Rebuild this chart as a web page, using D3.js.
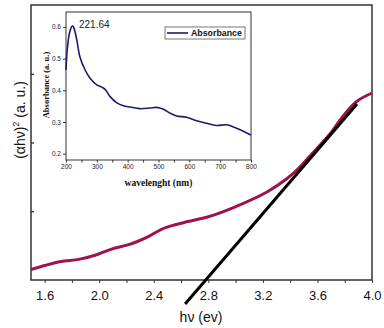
<!DOCTYPE html>
<html>
<head>
<meta charset="utf-8">
<script src="https://cdn.jsdelivr.net/npm/d3@7"></script>
<style>
  body { margin: 0; background: #fff; }
  svg { display: block; }
</style>
</head>
<body>
<svg width="384" height="328"></svg>
<script>
// main tauc plot data (photon energy in eV vs (ahv)^2)
const energy = [1.50, 1.60, 1.72, 1.85, 1.97, 2.09, 2.21, 2.28, 2.36, 2.46, 2.55, 2.65, 2.80, 2.98, 3.23, 3.38, 3.47, 3.52, 3.69, 3.79, 3.89, 4.00];
const tauc = [0.15, 0.21, 0.27, 0.30, 0.36, 0.45, 0.51, 0.56, 0.63, 0.74, 0.80, 0.85, 0.92, 1.05, 1.28, 1.48, 1.64, 1.75, 2.12, 2.39, 2.60, 2.72];
// straight fit line, two ends
const fitEnergy = [2.63, 3.89];
const fitTauc = [-0.35, 2.56];
const energyTicks = [1.6, 2.0, 2.4, 2.8, 3.2, 3.6, 4.0];

// inset absorbance spectrum
const wavelength = [200, 204, 211, 218, 222, 226, 235, 245, 262, 278, 300, 316, 327, 343, 364, 386, 408, 440, 472, 494, 516, 537, 559, 591, 624, 656, 688, 721, 753, 800];
const absorbance = [0.464, 0.527, 0.580, 0.600, 0.603, 0.596, 0.559, 0.506, 0.464, 0.438, 0.417, 0.410, 0.403, 0.380, 0.361, 0.351, 0.347, 0.342, 0.344, 0.346, 0.340, 0.328, 0.319, 0.315, 0.304, 0.296, 0.289, 0.291, 0.280, 0.259];
const wlTicks = [200, 300, 400, 500, 600, 700, 800];
const absTicks = [0.2, 0.3, 0.4, 0.5, 0.6];
const peakLabel = "221.64";

const svg = d3.select("svg");

let x = d3.scaleLinear().domain([1.5, 4.0]).range([31, 372]);
let y = d3.scaleLinear().domain([0, 4]).range([280, 5]);

// frame
svg.append("rect")
  .attr("x", x.range()[0]).attr("y", y.range()[1])
  .attr("width", x.range()[1] - x.range()[0])
  .attr("height", y.range()[0] - y.range()[1])
  .attr("fill", "none").attr("stroke", "#333").attr("stroke-width", 1.5);

// x axis, minor ticks every 0.2
const xAxis = d3.axisBottom(x)
  .tickValues(d3.range(1.6, 4.01, 0.2).map(v => +v.toFixed(1)))
  .tickSize(3)
  .tickSizeOuter(0)
  .tickFormat(d => energyTicks.includes(d) ? d.toFixed(1) : "");
let gx = svg.append("g")
  .attr("transform", "translate(0," + y.range()[0] + ")")
  .call(xAxis);
gx.select(".domain").remove();
gx.selectAll("line").attr("stroke", "#333");
gx.selectAll("text")
  .attr("font-family", "Liberation Sans, Arial, sans-serif")
  .attr("font-size", 13).attr("fill", "#111")
  .attr("dy", "1.1em");

// y axis has no labels, ticks point inward
const yAxis = d3.axisRight(y).tickValues([1, 2, 3]).tickSize(3).tickFormat("");
let gy = svg.append("g")
  .attr("transform", "translate(" + x.range()[0] + ",0)")
  .call(yAxis);
gy.select(".domain").remove();
gy.selectAll("line").attr("stroke", "#333").attr("stroke-width", 1.3);

// curve
const line = d3.line()
  .x((d, i) => x(energy[i]))
  .y((d, i) => y(tauc[i]))
  .curve(d3.curveCatmullRom.alpha(0.5));
svg.append("path")
  .attr("d", line(energy))
  .attr("fill", "none")
  .attr("stroke", "#a0124f")
  .attr("stroke-width", 3);

// tangent line
svg.append("line")
  .attr("x1", x(fitEnergy[0])).attr("y1", y(fitTauc[0]))
  .attr("x2", x(fitEnergy[1])).attr("y2", y(fitTauc[1]))
  .attr("stroke", "#000").attr("stroke-width", 3);

// axis titles
svg.append("text")
  .attr("x", 201).attr("y", 322)
  .attr("text-anchor", "middle")
  .attr("font-family", "Liberation Sans, Arial, sans-serif")
  .attr("font-size", 14).attr("fill", "#111")
  .text("hν (ev)");
let yt = svg.append("text")
  .attr("transform", "translate(25,120) rotate(-90)")
  .attr("text-anchor", "middle")
  .attr("font-family", "Liberation Sans, Arial, sans-serif")
  .attr("font-size", 14).attr("fill", "#111");
yt.append("tspan").text("(αhν)");
yt.append("tspan").attr("font-size", 9).attr("dy", -6).text("2");
yt.append("tspan").attr("dy", 6).text(" (a. u.)");

// ---- inset ----
let ix = d3.scaleLinear().domain([200, 800]).range([66, 251]);
let iy = d3.scaleLinear().domain([0.18, 0.647]).range([160, 12]);

svg.append("rect")
  .attr("x", ix.range()[0]).attr("y", iy.range()[1])
  .attr("width", ix.range()[1] - ix.range()[0])
  .attr("height", iy.range()[0] - iy.range()[1])
  .attr("fill", "#fff").attr("stroke", "#333").attr("stroke-width", 1);

const ixAxis = d3.axisBottom(ix)
  .tickValues(d3.range(200, 801, 50))
  .tickSize(2.5).tickSizeOuter(0)
  .tickFormat(d => wlTicks.includes(d) ? d : "");
let igx = svg.append("g")
  .attr("transform", "translate(0," + iy.range()[0] + ")")
  .call(ixAxis);
igx.select(".domain").remove();
igx.selectAll("line").attr("stroke", "#333");
igx.selectAll("text")
  .attr("font-family", "Liberation Sans, Arial, sans-serif")
  .attr("font-size", 6.5).attr("fill", "#222").attr("dy", "0.6em");

const iyAxis = d3.axisLeft(iy).tickValues(absTicks).tickSize(3).tickSizeOuter(0)
  .tickFormat(d3.format(".1f"));
let igy = svg.append("g")
  .attr("transform", "translate(" + ix.range()[0] + ",0)")
  .call(iyAxis);
igy.select(".domain").remove();
igy.selectAll("line").attr("stroke", "#333");
igy.selectAll("text")
  .attr("font-family", "Liberation Sans, Arial, sans-serif")
  .attr("font-size", 6.5).attr("fill", "#222").attr("x", -5);

const iline = d3.line()
  .x((d, i) => ix(wavelength[i]))
  .y((d, i) => iy(absorbance[i]))
  .curve(d3.curveCatmullRom.alpha(0.5));
svg.append("path")
  .attr("d", iline(wavelength))
  .attr("fill", "none")
  .attr("stroke", "#1b1b6b")
  .attr("stroke-width", 1.6);

svg.append("text")
  .attr("x", 79).attr("y", 28)
  .attr("font-family", "Liberation Sans, Arial, sans-serif")
  .attr("font-size", 10).attr("fill", "#222")
  .text(peakLabel);

svg.append("text")
  .attr("x", ix(500)).attr("y", 186)
  .attr("text-anchor", "middle")
  .attr("font-family", "Liberation Serif, Times New Roman, serif")
  .attr("font-weight", "bold")
  .attr("font-size", 9.5).attr("fill", "#111")
  .text("wavelenght (nm)");
svg.append("text")
  .attr("transform", "translate(49,85) rotate(-90)")
  .attr("text-anchor", "middle")
  .attr("font-family", "Liberation Serif, Times New Roman, serif")
  .attr("font-weight", "bold")
  .attr("font-size", 8.5).attr("fill", "#111")
  .text("Absorbance (a. u.)");

// legend
let legend = svg.append("g").attr("transform", "translate(165,27)");
legend.append("rect")
  .attr("width", 80).attr("height", 12)
  .attr("fill", "#fff").attr("stroke", "#555").attr("stroke-width", 0.8);
legend.append("line")
  .attr("x1", 2).attr("x2", 23).attr("y1", 6).attr("y2", 6)
  .attr("stroke", "#1b1b6b").attr("stroke-width", 1.6);
legend.append("text")
  .attr("x", 26).attr("y", 9.3)
  .attr("font-family", "Liberation Sans, Arial, sans-serif")
  .attr("font-weight", "bold")
  .attr("font-size", 8.8).attr("fill", "#111")
  .text("Absorbance");
</script>
</body>
</html>
